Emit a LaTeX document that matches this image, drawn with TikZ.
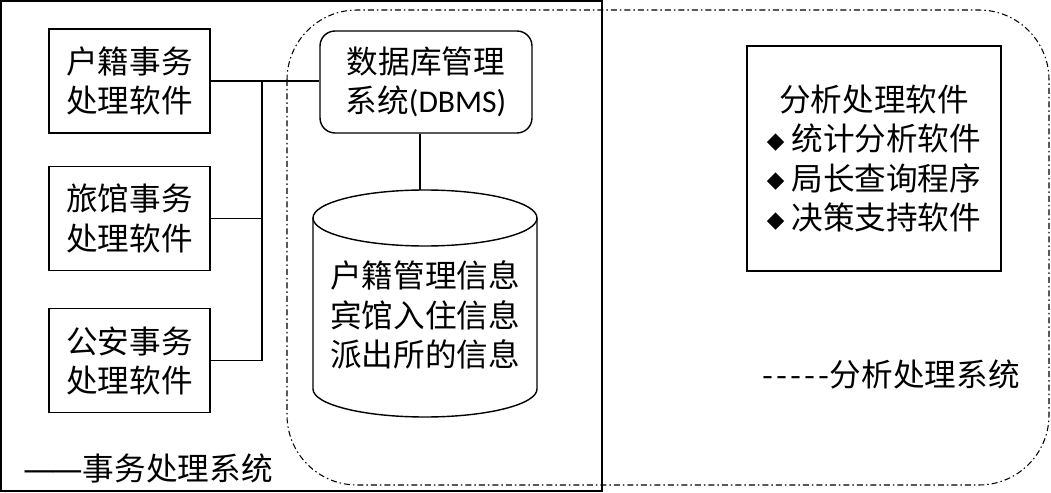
\documentclass[tikz,border=0pt]{standalone}
\usepackage{fontspec}
\setmainfont{Noto Sans CJK SC}
\newfontfamily\latinfont{Carlito}
\newfontfamily\symfont{DejaVu Sans}
\usetikzlibrary{positioning}
\newcommand{\dmd}{\raisebox{1.5pt}{\symfont\fontsize{13}{13}\selectfont ◆}\hspace{4pt}}
\newcommand{\hyph}{-\kern1.8pt}

\begin{document}
\begin{tikzpicture}[
    x=0.02cm, y=-0.02cm,
    every node/.style={font=\fontsize{18}{22.5}\selectfont},
    swbox/.style={rectangle, draw=black, line width=0.8pt, minimum width=3.22cm, minimum height=2.08cm, align=center, inner sep=0pt},
    dbmsbox/.style={rectangle, rounded corners=0.3cm, draw=black, line width=0.8pt, minimum width=4.24cm, minimum height=2.04cm, align=center, inner sep=0pt},
    fxbox/.style={rectangle, draw=black, line width=0.8pt, minimum width=5.08cm, minimum height=4.5cm, align=center, inner sep=0pt},
    link/.style={line width=0.8pt},
    dashdotline/.style={line width=0.6pt, dash pattern=on 0.12cm off 0.06cm on 0.03cm off 0.06cm}
]
    \useasboundingbox (0,0) rectangle (1051,493);

    % System borders
    \draw[line width=1pt] (1,1) rectangle (602,491);
    \draw[dashdotline, rounded corners=1.4cm] (287,10) rectangle (1049,485);

    % Nodes
    \node[swbox] (hjsw) at (129.5,81) {户籍事务\\处理软件};
    \node[swbox] (lgsw) [below=0.64cm of hjsw] {旅馆事务\\处理软件};
    \node[swbox] (gasw) [below=0.74cm of lgsw] {公安事务\\处理软件};
    \node[dbmsbox] (dbms) at (426,82) {数据库管理\\系统{\latinfont(DBMS)}};
    \node[fxbox] (fxsw) at (874,158.5) {分析处理软件\\\dmd 统计分析软件\\\dmd 局长查询程序\\\dmd 决策支持软件};

    % Database
    \draw[link] (313,218) -- (313,389) arc (180:0:112 and 28) -- (537,218);
    \draw[link] (425,218) ellipse (112 and 28);
    \coordinate (dbtop) at (420,190);
    \node[align=center] (dbinfo) at (425,315) {户籍管理信息\\宾馆入住信息\\派出所的信息};

    % Links
    \coordinate (bus) at (262,0);
    \draw[link] (hjsw.east) -- (hjsw.east -| dbms.west);
    \draw[link] (lgsw.east) -- (lgsw.east -| bus);
    \draw[link] (gasw.east) -- (gasw.east -| bus);
    \draw[link] (bus |- hjsw.east) -- (bus |- gasw.east);
    \draw[link] (dbtop |- dbms.south) -- (dbtop);

    % Legends
    \node (swlegend) at (148,468) {{\symfont —\kern-2pt—}事务处理系统};
    \node (fxlegend) at (891,374) {\hyph\hyph\hyph\hyph-分析处理系统};
\end{tikzpicture}
\end{document}
